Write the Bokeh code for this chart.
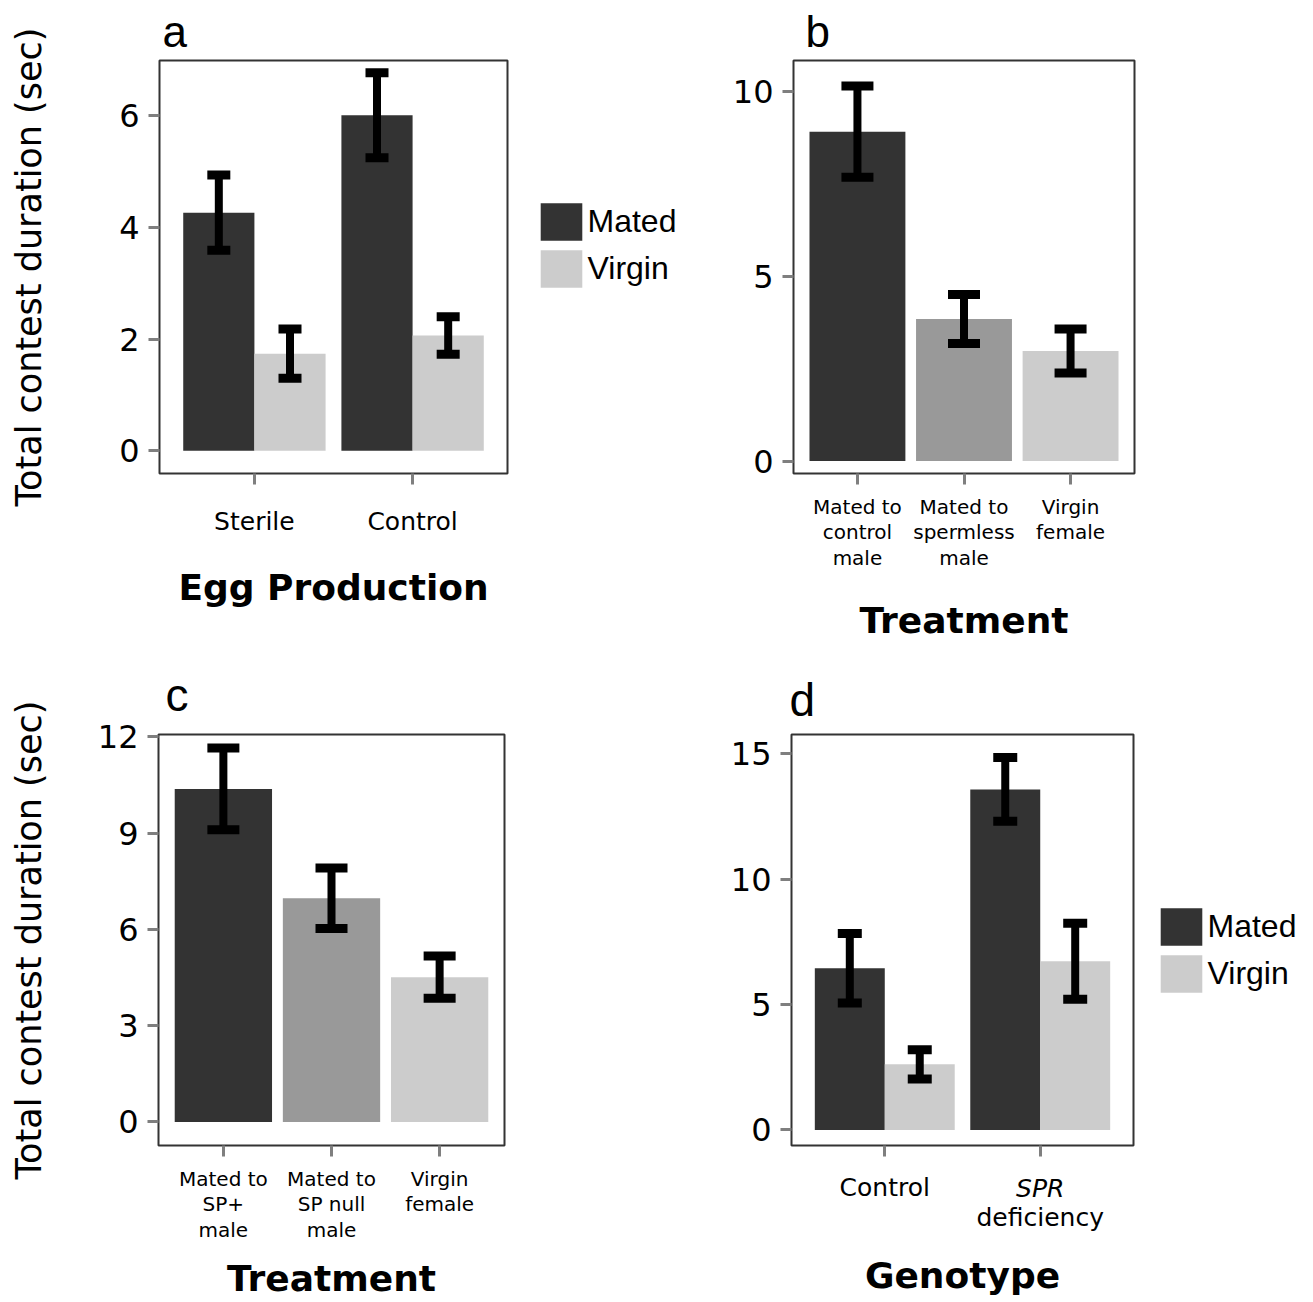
from bokeh.plotting import figure
from bokeh.models import (Range1d, FixedTicker, Legend, LegendItem, LinearAxis,
                          Whisker, ColumnDataSource, TeeHead)
from bokeh.layouts import column, row
from bokeh.embed import file_html
from bokeh.resources import INLINE

# ---------------- data ----------------
# panel a
a_groups = ["Sterile", "Control"]
a_mated = [4.265, 6.01]
a_mated_err = [0.675, 0.76]
a_virgin = [1.74, 2.065]
a_virgin_err = [0.44, 0.335]
a_yticks = [0, 2, 4, 6]

# panel b
b_labels = ["Mated to\ncontrol\nmale", "Mated to\nspermless\nmale", "Virgin\nfemale"]
b_means = [8.905, 3.84, 2.975]
b_err = [1.235, 0.66, 0.595]
b_yticks = [0, 5, 10]

# panel c
c_labels = ["Mated to\nSP+\nmale", "Mated to\nSP null\nmale", "Virgin\nfemale"]
c_means = [10.375, 6.97, 4.51]
c_err = [1.275, 0.94, 0.66]
c_yticks = [0, 3, 6, 9, 12]

# panel d
d_groups = ["Control", "SPR deficiency"]
d_mated = [6.445, 13.57]
d_mated_err = [1.385, 1.27]
d_virgin = [2.615, 6.725]
d_virgin_err = [0.585, 1.515]
d_yticks = [0, 5, 10, 15]

series_names = ["Mated", "Virgin"]
DARK, MID, LIGHT = "#333333", "#999999", "#cccccc"
Y_TITLE = "Total contest duration (sec)"
TICK_FONT = "DejaVu Sans"
NUM_FONT = "DejaVu Sans"
LETTER_FONT = "Liberation Sans"

# row geometry (canvas pixels)
ROW1_H, ROW1_TOP, ROW1_BOT = 645, 60, 172
ROW2_H, ROW2_TOP, ROW2_BOT = 656, 89, 155


def base_fig(n_cat, y0, y1, W, H, bl, br, bt, bb, yticks,
             letter, letter_size, letter_offset, letter_standoff):
    p = figure(width=W, height=H,
               min_border_left=bl, min_border_right=br,
               min_border_top=bt, min_border_bottom=bb,
               x_range=Range1d(0.4, n_cat + 0.6), y_range=Range1d(y0, y1),
               title=letter,
               output_backend="svg", toolbar_location=None, tools="")
    p.title.text_font = LETTER_FONT
    p.title.text_font_size = f"{letter_size}px"
    p.title.text_font_style = "normal"
    p.title.text_color = "black"
    p.title.align = "left"
    p.title.offset = letter_offset
    p.title.standoff = letter_standoff
    p.grid.visible = False
    p.outline_line_color = "#333333"
    p.outline_line_width = 2
    p.background_fill_color = "white"
    p.border_fill_color = "white"
    for ax in (p.xaxis[0], p.yaxis[0]):
        ax.axis_line_color = None
        ax.major_tick_line_color = "#7f7f7f"
        ax.major_tick_line_width = 3
        ax.major_tick_in = 0
        ax.major_tick_out = 11
        ax.minor_tick_line_color = None
        ax.major_label_text_color = "black"
        ax.axis_label_text_color = "black"
        ax.axis_label_text_font_style = "normal"
    p.yaxis[0].ticker = FixedTicker(ticks=yticks)
    p.yaxis[0].major_label_text_font = NUM_FONT
    p.yaxis[0].major_label_text_font_size = "32px"
    p.yaxis[0].major_label_standoff = 9
    p.xaxis[0].ticker = FixedTicker(ticks=list(range(1, n_cat + 1)))
    p.xaxis[0].major_label_text_font = TICK_FONT
    p.xaxis[0].axis_label_text_font = "DejaVu Sans"
    p.xaxis[0].axis_label_text_font_style = "bold"
    p.xaxis[0].axis_label_text_font_size = "36px"
    return p


def add_whiskers(p, xs, means, errs, cap):
    src = ColumnDataSource(dict(
        x=xs,
        upper=[m + e for m, e in zip(means, errs)],
        lower=[m - e for m, e in zip(means, errs)]))
    w = Whisker(source=src, base="x", upper="upper", lower="lower",
                dimension="height", line_width=8, line_color="black",
                upper_head=TeeHead(size=cap, line_width=9, line_color="black"),
                lower_head=TeeHead(size=cap, line_width=9, line_color="black"),
                level="overlay")
    p.add_layout(w)


def add_y_title(p, standoff):
    p.yaxis[0].axis_label = Y_TITLE
    p.yaxis[0].axis_label_text_font = "DejaVu Sans"
    p.yaxis[0].axis_label_text_font_size = "35px"
    p.yaxis[0].axis_label_standoff = standoff


def legend_fig(W, H, bt, bb, lx, ly):
    """A bare figure that only carries the Mated / Virgin legend."""
    q = figure(width=W, height=H, min_border_left=0, min_border_right=0,
               min_border_top=bt, min_border_bottom=bb,
               x_range=Range1d(0, 1), y_range=Range1d(0, 1),
               x_axis_location=None, y_axis_location=None,
               output_backend="svg", toolbar_location=None, tools="")
    q.grid.visible = False
    q.outline_line_color = None
    q.background_fill_color = "white"
    q.border_fill_color = "white"
    # zero-size keys: they only provide the legend swatches
    key = dict(x=[0.5], top=[0], bottom=[0])
    r_m = q.vbar(source=ColumnDataSource(key), x="x", top="top", bottom="bottom",
                 width=0, fill_color=DARK, line_color=None)
    r_v = q.vbar(source=ColumnDataSource(dict(key)), x="x", top="top", bottom="bottom",
                 width=0, fill_color=LIGHT, line_color=None)
    leg = Legend(items=[LegendItem(label=series_names[0], renderers=[r_m]),
                        LegendItem(label=series_names[1], renderers=[r_v])],
                 location=(lx, ly), orientation="vertical",
                 glyph_width=52, glyph_height=47, label_height=47,
                 spacing=0, padding=0, margin=0, label_standoff=1,
                 label_text_font=LETTER_FONT, label_text_font_size="32px",
                 label_text_color="black", label_text_baseline="middle",
                 border_line_color=None, background_fill_alpha=0)
    q.add_layout(leg, "center")
    return q


def dodged_panel(groups, mated, mated_err, virgin, virgin_err, y0, y1, dims, yticks, cap, letter):
    n = len(groups)
    p = base_fig(n, y0, y1, *dims, yticks, *letter)
    xm = [i + 1 - 0.225 for i in range(n)]
    xv = [i + 1 + 0.225 for i in range(n)]
    p.vbar(x=xm, top=mated, bottom=0, width=0.45, fill_color=DARK, line_color=None)
    p.vbar(x=xv, top=virgin, bottom=0, width=0.45, fill_color=LIGHT, line_color=None)
    add_whiskers(p, xm, mated, mated_err, cap)
    add_whiskers(p, xv, virgin, virgin_err, cap)
    return p


def single_panel(labels, means, errs, y0, y1, dims, yticks, cap, letter):
    n = len(labels)
    p = base_fig(n, y0, y1, *dims, yticks, *letter)
    xs = [i + 1 for i in range(n)]
    p.vbar(x=xs, top=means, bottom=0, width=0.9, fill_color=[DARK, MID, LIGHT], line_color=None)
    add_whiskers(p, xs, means, errs, cap)
    p.xaxis[0].major_label_overrides = {i + 1: lab for i, lab in enumerate(labels)}
    p.xaxis[0].major_label_text_font_size = "20px"
    p.xaxis[0].major_label_text_line_height = 1.07
    return p


# ---------------- panel a ----------------
pa = dodged_panel(a_groups, a_mated, a_mated_err, a_virgin, a_virgin_err,
                  -0.407, 6.991, (527, ROW1_H, 159, 20, ROW1_TOP, ROW1_BOT), a_yticks, 23,
                  ("a", 44, 3, 9))
pa.xaxis[0].major_label_overrides = {i + 1: g for i, g in enumerate(a_groups)}
pa.xaxis[0].major_label_text_font_size = "25px"
pa.xaxis[0].major_label_standoff = 22
pa.xaxis[0].axis_label = "Egg Production"
pa.xaxis[0].axis_label_standoff = 28
add_y_title(pa, 67)
leg_a = legend_fig(173, ROW1_H, ROW1_TOP, ROW1_BOT, 7.5, 181)

# ---------------- panel b ----------------
pb = single_panel(b_labels, b_means, b_err, -0.338, 10.83,
                  (605, ROW1_H, 93, 171, ROW1_TOP, ROW1_BOT), b_yticks, 32, ("b", 44, 12, 9))
pb.xaxis[0].major_label_standoff = 10
pb.xaxis[0].axis_label = "Treatment"
pb.xaxis[0].axis_label_standoff = 27

# ---------------- panel c ----------------
pc = single_panel(c_labels, c_means, c_err, -0.734, 12.07,
                  (514, ROW2_H, 158, 10, ROW2_TOP, ROW2_BOT), c_yticks, 32, ("c", 46, 7, 27))
pc.xaxis[0].major_label_standoff = 10
pc.xaxis[0].axis_label = "Treatment"
pc.xaxis[0].axis_label_standoff = 13
add_y_title(pc, 46)

# ---------------- panel d ----------------
pd_ = dodged_panel(d_groups, d_mated, d_mated_err, d_virgin, d_virgin_err,
                   -0.62, 15.76, (629, ROW2_H, 277, 10, ROW2_TOP, ROW2_BOT), d_yticks, 24,
                   ("d", 46, -2, 18))
leg_d = legend_fig(162, ROW2_H, ROW2_TOP, ROW2_BOT, 11.5, 148)
gene, rest = d_groups[1].split(" ")
ax1 = pd_.xaxis[0]
ax1.major_label_overrides = {1: d_groups[0], 2: ""}
ax1.major_label_text_font_size = "25px"
ax1.major_label_standoff = 16


def text_axis(ticks, overrides, standoff, style):
    ax = LinearAxis(ticker=FixedTicker(ticks=ticks), major_label_overrides=overrides,
                    major_label_standoff=standoff, major_label_text_font=TICK_FONT,
                    major_label_text_font_size="25px", major_label_text_font_style=style,
                    major_label_text_color="black",
                    major_tick_in=0, major_tick_out=0, major_tick_line_color=None,
                    minor_tick_line_color=None, axis_line_color=None)
    return ax


ax2 = text_axis([2], {2: gene}, -31, "italic")
pd_.add_layout(ax2, "below")
ax3 = text_axis([2], {2: rest}, -3, "normal")
ax3.axis_label = "Genotype"
ax3.axis_label_text_font = "DejaVu Sans"
ax3.axis_label_text_font_style = "bold"
ax3.axis_label_text_font_size = "36px"
ax3.axis_label_text_color = "black"
ax3.axis_label_standoff = 20
pd_.add_layout(ax3, "below")

layout = column(row(pa, leg_a, pb), row(pc, pd_, leg_d))
open("out.html", "w").write(file_html(layout, INLINE))
